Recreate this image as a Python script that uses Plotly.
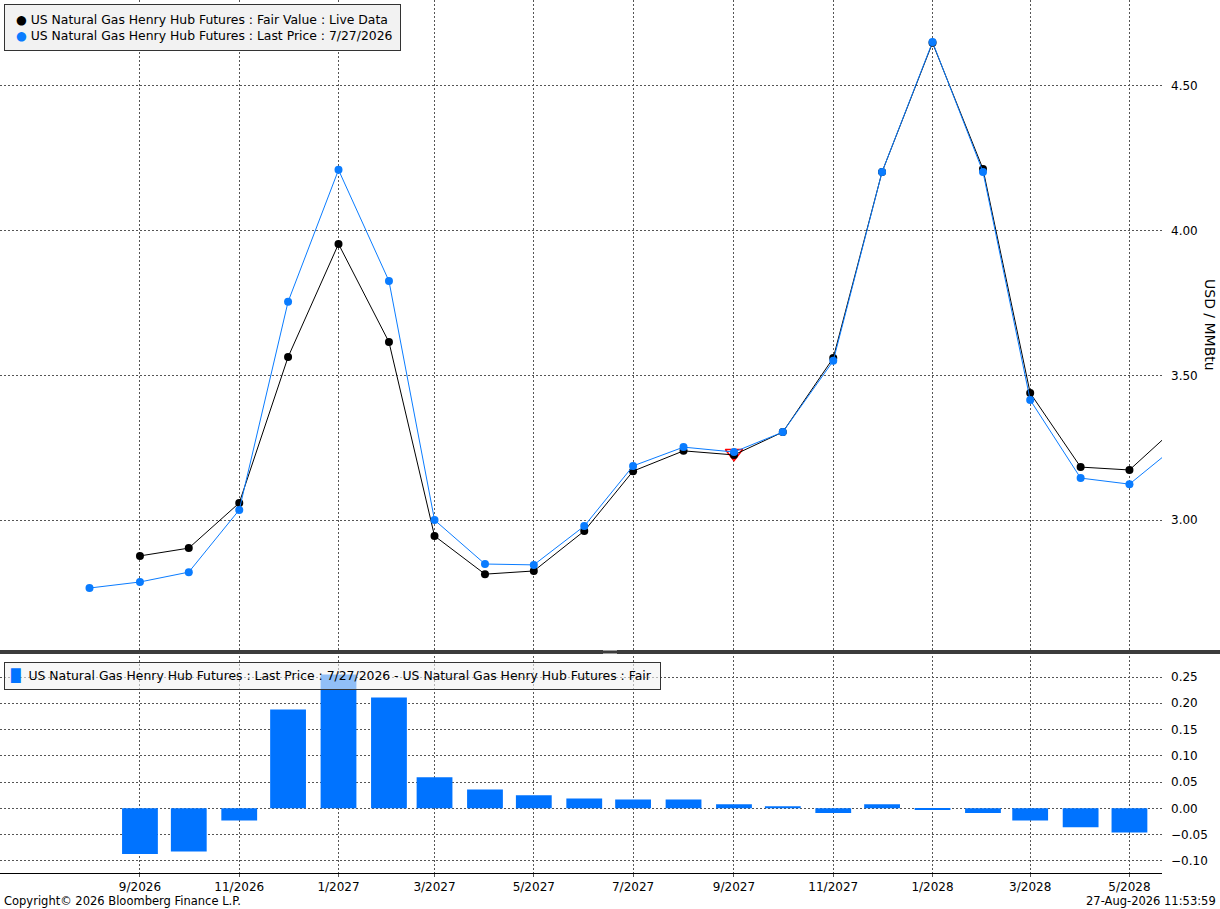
import plotly.graph_objects as go

# Monthly contracts (8/2026 .. 6/2028)
months = [
    "2026-08-01", "2026-09-01", "2026-10-01", "2026-11-01", "2026-12-01",
    "2027-01-01", "2027-02-01", "2027-03-01", "2027-04-01", "2027-05-01",
    "2027-06-01", "2027-07-01", "2027-08-01", "2027-09-01", "2027-10-01",
    "2027-11-01", "2027-12-01", "2028-01-01", "2028-02-01", "2028-03-01",
    "2028-04-01", "2028-05-01", "2028-06-01",
]

# Last price 7/27/2026 (starts 8/2026)
last_price = [
    2.765, 2.786, 2.820, 3.035, 3.754, 4.210, 3.826, 3.000, 2.848, 2.845,
    2.979, 3.187, 3.252, 3.235, 3.304, 3.550, 4.203, 4.652, 4.203, 3.415,
    3.145, 3.124, 3.266,
]

# Fair value, live data (starts 9/2026)
fair_months = months[1:]
fair_value = [
    2.876, 2.903, 3.059, 3.563, 3.954, 3.615, 2.945, 2.813, 2.824,
    2.962, 3.169, 3.239, 3.225, 3.304, 3.560, 4.203, 4.649, 4.213, 3.439,
    3.183, 3.173, 3.332,
]

# Last price - fair value (9/2026 .. 5/2028)
spread_months = months[1:22]
spread = [
    -0.087, -0.082, -0.023, 0.188, 0.255, 0.211, 0.059, 0.036, 0.025, 0.019,
    0.017, 0.017, 0.008, 0.004, -0.009, 0.008, -0.003, -0.009, -0.023, -0.036,
    -0.046,
]

# highlighted point
flag_month = ["2027-09-01"]
flag_value = [3.231]

x_ticks = months[1:22:2]
top_ticks = [3.0, 3.5, 4.0, 4.5]
bottom_ticks = [-0.10, -0.05, 0.00, 0.05, 0.10, 0.15, 0.20, 0.25]

BLUE = "#0a7cff"
BAR_BLUE = "#0073ff"
GRID = "#555555"
FONT = "DejaVu Sans"
NB = "\u00a0"
W, H = 1220, 909
PW, PH = 1162, 873   # plot area size in px


def px(x, y):
    """pixel position (from top-left) -> paper coords"""
    return x / PW, 1 - y / PH


fig = go.Figure()

# top panel: flag marker sits under the line markers
fig.add_trace(go.Scatter(
    x=flag_month, y=flag_value, mode="markers",
    marker=dict(symbol="triangle-down-open", color="red", size=15, line=dict(width=1.5)),
    showlegend=False, xaxis="x", yaxis="y",
))
fig.add_trace(go.Scatter(
    x=fair_months, y=fair_value, mode="lines+markers",
    line=dict(color="black", width=1), marker=dict(color="black", size=8),
    showlegend=False, xaxis="x", yaxis="y",
))
fig.add_trace(go.Scatter(
    x=months, y=last_price, mode="lines+markers",
    line=dict(color=BLUE, width=1), marker=dict(color=BLUE, size=8),
    showlegend=False, xaxis="x", yaxis="y",
))

# bottom panel bars
fig.add_trace(go.Bar(
    x=spread_months, y=spread, marker=dict(color=BAR_BLUE, line=dict(width=0)),
    width=22 * 86400000, showlegend=False, xaxis="x2", yaxis="y2",
))

x_range = ["2026-06-07", "2028-05-21"]
grid_common = dict(showgrid=True, gridcolor=GRID, griddash="2px,2px", gridwidth=1,
                   zeroline=False, automargin=False)

fig.update_layout(
    width=W, height=H,
    margin=dict(l=0, r=W - PW, t=0, b=H - PH),
    paper_bgcolor="white", plot_bgcolor="white",
    font=dict(family=FONT, size=12, color="black"),
    showlegend=False,
    xaxis=dict(domain=[0, 1], anchor="y", matches="x2", range=x_range,
               type="date", tickvals=x_ticks, showticklabels=False,
               showline=False, **grid_common),
    yaxis=dict(domain=[1 - 652 / PH, 1], anchor="x", side="right", range=[2.544, 4.797],
               tickvals=top_ticks, tickformat=".2f", ticks="", ticklabelstandoff=8,
               showline=False, **grid_common),
    xaxis2=dict(domain=[0, 1], anchor="y2", range=x_range, type="date",
                tickvals=x_ticks, tickformat="%-m/%Y",
                showline=True, linecolor="black", linewidth=1,
                ticks="outside", ticklen=3, tickcolor=GRID, **grid_common),
    yaxis2=dict(domain=[0, 1 - 656 / PH], anchor="x2", side="right", range=[-0.123, 0.29],
                tickvals=bottom_ticks, tickformat=".2f", ticks="", ticklabelstandoff=8,
                showline=False, **grid_common),
)

# legends drawn as boxed annotations
lx, ly = px(4, 4)
fig.add_annotation(
    text=(f"{NB}<span style='color:black'>\u25cf</span> US Natural Gas Henry Hub Futures : Fair Value : Live Data<br>"
          f"{NB}<span style='color:{BLUE}'>\u25cf</span> US Natural Gas Henry Hub Futures : Last Price : 7/27/2026"),
    xref="paper", yref="paper", x=lx, y=ly, xanchor="left", yanchor="top",
    align="left", showarrow=False, bgcolor="#f2f2f2", bordercolor="#333333",
    borderwidth=1, borderpad=7, font=dict(family=FONT, size=12.4, color="black"),
)
lx, ly = px(4, 662)
fig.add_annotation(
    text=(f"<span style='color:{BAR_BLUE}'>\u2588</span>{NB} US Natural Gas Henry Hub Futures : Last Price : 7/27/2026 - "
          f"US Natural Gas Henry Hub Futures : Fair{NB}"),
    xref="paper", yref="paper", x=lx, y=ly, xanchor="left", yanchor="top",
    align="left", showarrow=False, bgcolor="rgba(242,242,242,0.6)", bordercolor="#333333",
    borderwidth=1, borderpad=5, font=dict(family=FONT, size=12.4, color="black"),
)

# panel separator and grip mark
_, sy = px(0, 652)
fig.add_shape(type="line", xref="paper", yref="paper", x0=0, x1=W / PW,
              y0=sy, y1=sy, line=dict(color="#3c3c3c", width=4))
for dy in (-1.5, 1.5):
    _, gy = px(0, 652 + dy)
    fig.add_shape(type="line", xref="paper", yref="paper", x0=603 / PW, x1=617 / PW,
                  y0=gy, y1=gy, line=dict(color="#999999", width=1))

tx, ty = px(1210, 325)
fig.add_annotation(text="USD / MMBtu", xref="paper", yref="paper",
                   x=tx, y=ty, xanchor="center", yanchor="middle", textangle=90,
                   showarrow=False, font=dict(family=FONT, size=14, color="black"))
cx, cy = px(2, 901)
fig.add_annotation(text="Copyright\u00a9 2026 Bloomberg Finance L.P.", xref="paper", yref="paper",
                   x=cx, y=cy, xanchor="left", yanchor="middle",
                   showarrow=False, font=dict(family=FONT, size=11.5, color="black"))
cx, cy = px(1218, 901)
fig.add_annotation(text="27-Aug-2026 11:53:59", xref="paper", yref="paper",
                   x=cx, y=cy, xanchor="right", yanchor="middle",
                   showarrow=False, font=dict(family=FONT, size=11.5, color="black"))

fig.write_html("out.html", config={"displayModeBar": False},
               post_script="document.body.style.margin='0';")
